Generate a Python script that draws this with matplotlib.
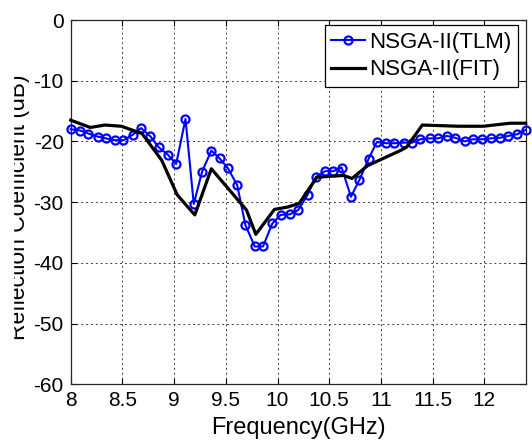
import matplotlib
matplotlib.use("Agg")
import matplotlib.pyplot as plt
from matplotlib.patches import Rectangle

plt.rcParams['font.family'] = ['Liberation Sans', 'DejaVu Sans']
plt.rcParams['axes.unicode_minus'] = False

# NSGA-II (TLM) samples
tlm_freq = [8.00, 8.09, 8.17, 8.26, 8.34, 8.43, 8.51, 8.60, 8.68, 8.77,
            8.85, 8.94, 9.02, 9.11, 9.19, 9.27, 9.36, 9.44, 9.52, 9.61,
            9.69, 9.78, 9.86, 9.95, 10.03, 10.12, 10.20, 10.29, 10.37, 10.46,
            10.54, 10.62, 10.71, 10.79, 10.88, 10.96, 11.05, 11.13, 11.22, 11.30,
            11.38, 11.47, 11.55, 11.64, 11.72, 11.81, 11.89, 11.98, 12.06, 12.15,
            12.23, 12.32, 12.40]
tlm_db = [-18.0, -18.2, -18.7, -19.2, -19.5, -19.8, -19.8, -18.9, -17.8, -19.15,
          -20.95, -22.2, -23.7, -16.3, -30.3, -25.0, -21.5, -22.8, -24.4, -27.2,
          -33.8, -37.3, -37.3, -33.5, -32.1, -32.0, -31.3, -28.8, -25.9, -24.9,
          -24.9, -24.3, -29.1, -26.4, -22.9, -20.1, -20.3, -20.3, -20.2, -20.2,
          -19.65, -19.5, -19.5, -19.1, -19.4, -20.0, -19.65, -19.65, -19.5, -19.4,
          -19.1, -18.8, -18.1]

# NSGA-II (FIT) curve vertices
fit_freq = [8.00, 8.19, 8.33, 8.49, 8.69, 8.88, 9.03, 9.20, 9.36, 9.70,
            9.79, 9.97, 10.10, 10.21, 10.38, 10.64, 10.72, 10.87, 11.20, 11.25,
            11.40, 11.75, 11.99, 12.25, 12.40]
fit_db = [-16.5, -17.7, -17.3, -17.5, -18.7, -23.1, -28.8, -32.1, -24.5, -31.3,
          -35.3, -31.2, -30.8, -30.2, -25.9, -25.6, -26.1, -24.0, -21.4, -20.9,
          -17.3, -17.5, -17.5, -17.0, -17.0]

xticks = [8, 8.5, 9, 9.5, 10, 10.5, 11, 11.5, 12]
xtick_labels = ['8', '8.5', '9', '9.5', '10', '10.5', '11', '11.5', '12']
yticks = [-60, -50, -40, -30, -20, -10, 0]

W, H = 532, 445
fig = plt.figure(figsize=(W / 100, H / 100), dpi=100)
ax = fig.add_axes([70.7 / W, 1 - 384.3 / H, 455 / W, 364.3 / H])

ax.plot(tlm_freq, tlm_db, color='blue', lw=1.5, marker='o', ms=5.8,
        mfc='none', mew=1.6, clip_on=False, zorder=3, label='NSGA-II(TLM)')
ax.plot(fit_freq, fit_db, color='black', lw=2.3, clip_on=False, zorder=4,
        label='NSGA-II(FIT)')

ax.set_xlim(8, 12.4)
ax.set_ylim(-60, 0)
ax.set_xticks(xticks)
ax.set_xticklabels(xtick_labels)
ax.set_yticks(yticks)
ax.grid(True, linestyle=(0, (2, 3)), color='0.25', lw=0.7)
ax.tick_params(direction='in', length=4, width=0.8, top=True, right=True,
               labelsize=15, pad=5)
for s in ax.spines.values():
    s.set_linewidth(0.9)
    s.set_color('0.15')

ax.set_xlabel('Frequency(GHz)', fontsize=17, labelpad=5)
fig.text(25 / W, 1 - 206.8 / H, 'Reflection Coefficient (dB)', fontsize=16.5,
         rotation=90, rotation_mode='anchor', ha='center', va='baseline')
# the reference is cut off on the left
fig.patches.append(Rectangle((0, 0), 13.3 / W, 1, transform=fig.transFigure,
                             color='white', zorder=10))

leg = ax.legend(loc='upper right', bbox_to_anchor=(518 / W, 1 - 25 / H),
                bbox_transform=fig.transFigure, borderaxespad=0, fontsize=16,
                fancybox=False, framealpha=1, edgecolor='black',
                handlelength=1.5, handletextpad=0.2, borderpad=0.3,
                labelspacing=0.3)
leg.get_frame().set_linewidth(0.9)

fig.savefig('out.png', dpi=100)
